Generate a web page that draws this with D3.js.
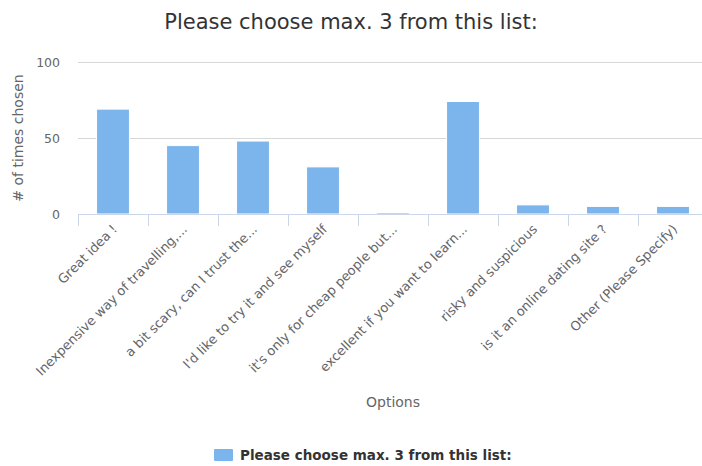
<!DOCTYPE html>
<html>
<head>
<meta charset="utf-8">
<script src="https://cdn.jsdelivr.net/npm/d3@7"></script>
<style>
  html, body { margin: 0; padding: 0; background: #fff; }
  svg { display: block; font-family: "DejaVu Sans", Verdana, sans-serif; }
</style>
</head>
<body>
<svg id="chart" width="702" height="466"></svg>
<script>
// Survey answers and how many times each one was picked
const categories = [
  "Great idea !",
  "Inexpensive way of travelling,...",
  "a bit scary, can I trust the...",
  "I'd like to try it and see myself",
  "it's only for cheap people but...",
  "excellent if you want to learn...",
  "risky and suspicious",
  "is it an online dating site ?",
  "Other (Please Specify)"
];
const timesChosen = [69, 45, 48, 31, 1, 74, 6, 5, 5];
const yTicks = [0, 50, 100];

const chartTitle = "Please choose max. 3 from this list:";
const seriesName = "Please choose max. 3 from this list:";
const yTitle = "# of times chosen";
const xTitle = "Options";

const barColor = "#7cb5ec";

const svg = d3.select("#chart");
const plot = { left: 78, right: 708, top: 62, bottom: 214 };

const x = d3.scaleBand()
  .domain(categories)
  .range([plot.left, plot.right])
  .paddingInner(0.53)
  .paddingOuter(0.265);

const xTicks = d3.scaleBand().domain(categories).range([plot.left, plot.right]);

const y = d3.scaleLinear().domain([0, 100]).range([plot.bottom, plot.top]);

// Title
svg.append("text")
  .attr("x", 351).attr("y", 29)
  .attr("text-anchor", "middle")
  .attr("fill", "#333333")
  .style("font-size", "21px")
  .text(chartTitle);

// Horizontal gridlines
svg.append("g").selectAll("line")
  .data(yTicks.filter(d => d > 0))
  .join("line")
  .attr("x1", plot.left).attr("x2", plot.right)
  .attr("y1", d => y(d) + 0.5).attr("y2", d => y(d) + 0.5)
  .attr("stroke", "#d8d8d8").attr("stroke-width", 1);

// Y axis labels
const yAxis = d3.axisLeft(y).tickValues(yTicks).tickSize(0).tickPadding(0);
const yG = svg.append("g")
  .attr("transform", `translate(${plot.left - 18},0)`)
  .call(yAxis);
yG.select(".domain").remove();
yG.selectAll("text")
  .attr("fill", "#666666")
  .style("font-size", "12.5px")
  .style("font-family", "DejaVu Sans, sans-serif");

// Bars
svg.append("g").selectAll("rect")
  .data(timesChosen)
  .join("rect")
  .attr("x", (d, i) => x(categories[i]))
  .attr("width", x.bandwidth())
  .attr("y", d => y(d))
  .attr("height", d => plot.bottom - y(d))
  .attr("fill", barColor)
  .attr("stroke", "#ffffff").attr("stroke-width", 1);

// X axis line and ticks at category boundaries
svg.append("line")
  .attr("x1", plot.left).attr("x2", plot.right)
  .attr("y1", plot.bottom + 0.5).attr("y2", plot.bottom + 0.5)
  .attr("stroke", "#ccd6eb");
svg.append("g").selectAll("line")
  .data(categories)
  .join("line")
  .attr("x1", d => xTicks(d) + 0.5).attr("x2", d => xTicks(d) + 0.5)
  .attr("y1", plot.bottom).attr("y2", plot.bottom + 12)
  .attr("stroke", "#ccd6eb");

// Rotated category labels
svg.append("g").selectAll("text")
  .data(categories)
  .join("text")
  .attr("transform", d => `translate(${x(d) + x.bandwidth() / 2 + 5},${plot.bottom + 16}) rotate(-45)`)
  .attr("text-anchor", "end")
  .attr("fill", "#666666")
  .style("font-size", "13px")
  .text(d => d);

// Axis titles
svg.append("text")
  .attr("transform", `translate(23,${(plot.top + plot.bottom) / 2}) rotate(-90)`)
  .attr("text-anchor", "middle")
  .attr("fill", "#666666")
  .style("font-size", "14px")
  .text(yTitle);

svg.append("text")
  .attr("x", (plot.left + plot.right) / 2).attr("y", 407)
  .attr("text-anchor", "middle")
  .attr("fill", "#666666")
  .style("font-size", "14px")
  .text(xTitle);

// Legend
const legend = svg.append("g").attr("transform", "translate(214,449)");
legend.append("rect")
  .attr("width", 19).attr("height", 12)
  .attr("rx", 1)
  .attr("fill", barColor);
legend.append("text")
  .attr("x", 26).attr("y", 11)
  .attr("fill", "#333333")
  .style("font-size", "13.5px")
  .style("font-weight", "bold")
  .text(seriesName);
</script>
</body>
</html>
